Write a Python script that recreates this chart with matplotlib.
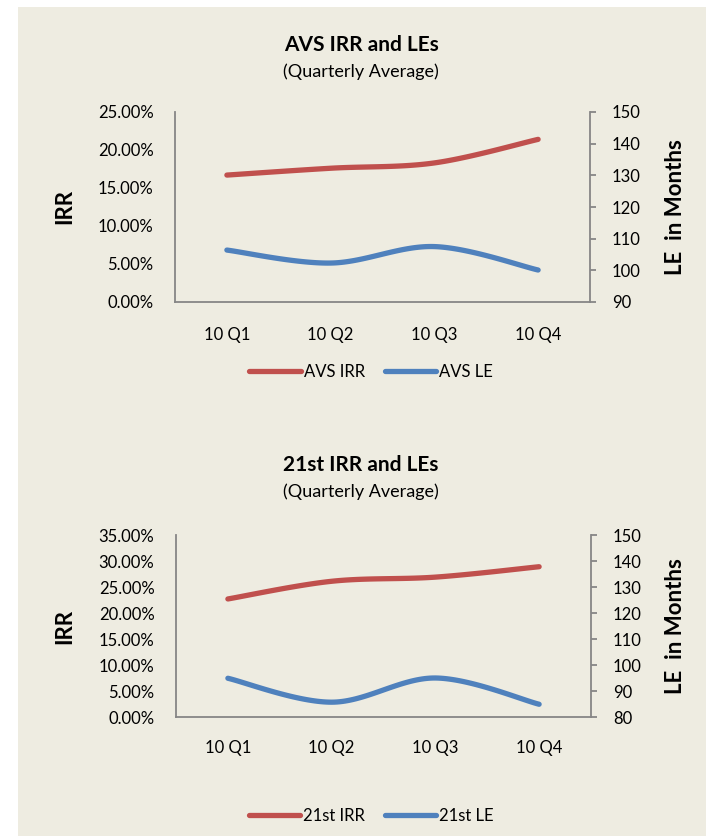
import numpy as np
import matplotlib
matplotlib.use("Agg")
import matplotlib.pyplot as plt
from matplotlib.patches import Rectangle
from matplotlib.ticker import FuncFormatter, MultipleLocator
from matplotlib.lines import Line2D

plt.rcParams['font.family'] = ['Lato', 'DejaVu Sans']

quarters = ["10 Q1", "10 Q2", "10 Q3", "10 Q4"]

avs_irr = [16.7, 17.6, 18.3, 21.4]      # percent
avs_le = [106.4, 102.3, 107.5, 100.1]   # months
st_irr = [22.7, 26.1, 26.9, 28.9]       # percent
st_le = [94.9, 85.7, 95.0, 84.9]        # months

RED = "#C0504D"
BLUE = "#4F81BD"
BG = "#EEECE1"
SPINE = "#868686"

W, H = 706, 836
fig = plt.figure(figsize=(W / 100, H / 100), dpi=100)
fig.patch.set_facecolor("white")
fig.add_artist(Rectangle((18 / W, 0), 1 - 18 / W, 1 - 7 / H, transform=fig.transFigure,
                         facecolor=BG, edgecolor="none", zorder=0))


def smooth(xs, ys, n=40):
    """Excel-style smoothed curve (Catmull-Rom Bezier) through given points."""
    xs = np.asarray(xs, float)
    ys = np.asarray(ys, float)
    P = np.column_stack([xs, ys])
    out = []
    for i in range(len(P) - 1):
        p0 = P[i - 1] if i > 0 else P[i]
        p1 = P[i]
        p2 = P[i + 1]
        p3 = P[i + 2] if i + 2 < len(P) else P[i + 1]
        c1 = p1 + (p2 - p0) / 6.0
        c2 = p2 - (p3 - p1) / 6.0
        t = np.linspace(0, 1, n)[:, None]
        seg = ((1 - t) ** 3) * p1 + 3 * ((1 - t) ** 2) * t * c1 + 3 * (1 - t) * t ** 2 * c2 + t ** 3 * p2
        out.append(seg if i == 0 else seg[1:])
    S = np.vstack(out)
    return S[:, 0], S[:, 1]


def px_axes(left, top, right, bottom):
    return fig.add_axes([left / W, 1 - bottom / H, (right - left) / W, (bottom - top) / H])


def make_chart(box, title, irr, le, ymax, ystep, rmin, rmax, names, title_y, sub_y, leg_y, xpad):
    left, top, right, bottom = box
    ax = px_axes(left, top, right, bottom)
    ax.set_facecolor("none")
    ax2 = ax.twinx()
    ax2.set_facecolor("none")
    x = np.arange(len(quarters))

    sx, sy = smooth(x, irr)
    ax.plot(sx, sy, color=RED, lw=3.8, solid_capstyle="round", zorder=3)
    sx2, sy2 = smooth(x, le)
    ax2.plot(sx2, sy2, color=BLUE, lw=3.8, solid_capstyle="round", zorder=3)

    ax.set_xlim(-0.5, len(quarters) - 0.5)
    ax.set_xticks(x)
    ax.set_xticklabels(quarters)
    ax.set_ylim(0, ymax)
    ax.yaxis.set_major_locator(MultipleLocator(ystep))
    ax.yaxis.set_major_formatter(FuncFormatter(lambda v, p: f"{v:.2f}%"))
    ax2.set_ylim(rmin, rmax)
    ax2.yaxis.set_major_locator(MultipleLocator(10))

    for a in (ax, ax2):
        for s in ("top",):
            a.spines[s].set_visible(False)
        for s in ("left", "right", "bottom"):
            a.spines[s].set_color(SPINE)
            a.spines[s].set_linewidth(1.3)
    ax.spines["right"].set_visible(False)
    ax2.spines["left"].set_visible(False)
    ax2.spines["bottom"].set_visible(False)

    ax.tick_params(axis="y", length=0, pad=15.5, labelsize=12, labelcolor="black")
    ax.tick_params(axis="x", length=0, pad=xpad, labelsize=12, labelcolor="black")
    ax2.tick_params(axis="y", direction="out", length=4.3, width=1.3, color=SPINE,
                    pad=11.5, labelsize=12, labelcolor="black")

    cy = 1 - (top + bottom) / 2 / H
    fig.text(65 / W, cy, "IRR", rotation=90, ha="center", va="center",
             fontsize=16, fontweight="bold")
    fig.text(675 / W, cy, "LE  in Months", rotation=90, ha="center", va="center",
             fontsize=16, fontweight="bold")

    fig.text(361 / W, 1 - title_y / H, title, ha="center", va="center",
             fontsize=15, fontweight="bold")
    fig.text(361 / W, 1 - sub_y / H, "(Quarterly Average)", ha="center", va="center",
             fontsize=13)

    handles = [Line2D([0], [0], color=RED, lw=3.8, solid_capstyle="round"),
               Line2D([0], [0], color=BLUE, lw=3.8, solid_capstyle="round")]
    fig.legend(handles, names, loc="center", bbox_to_anchor=(371 / W, 1 - leg_y / H),
               ncol=2, frameon=False, fontsize=12, handlelength=3.1, handletextpad=0.15,
               columnspacing=1.2)
    return ax, ax2


make_chart((175, 112, 590, 302), "AVS IRR and LEs", avs_irr, avs_le, 25, 5, 90, 150,
           ["AVS IRR", "AVS LE"], 45, 72, 372, 18)
make_chart((176, 535, 591, 717), "21st IRR and LEs", st_irr, st_le, 35, 5, 80, 150,
           ["21st IRR", "21st LE"], 465, 492, 816, 16.5)

fig.savefig("out.png", dpi=100, facecolor=fig.get_facecolor())
